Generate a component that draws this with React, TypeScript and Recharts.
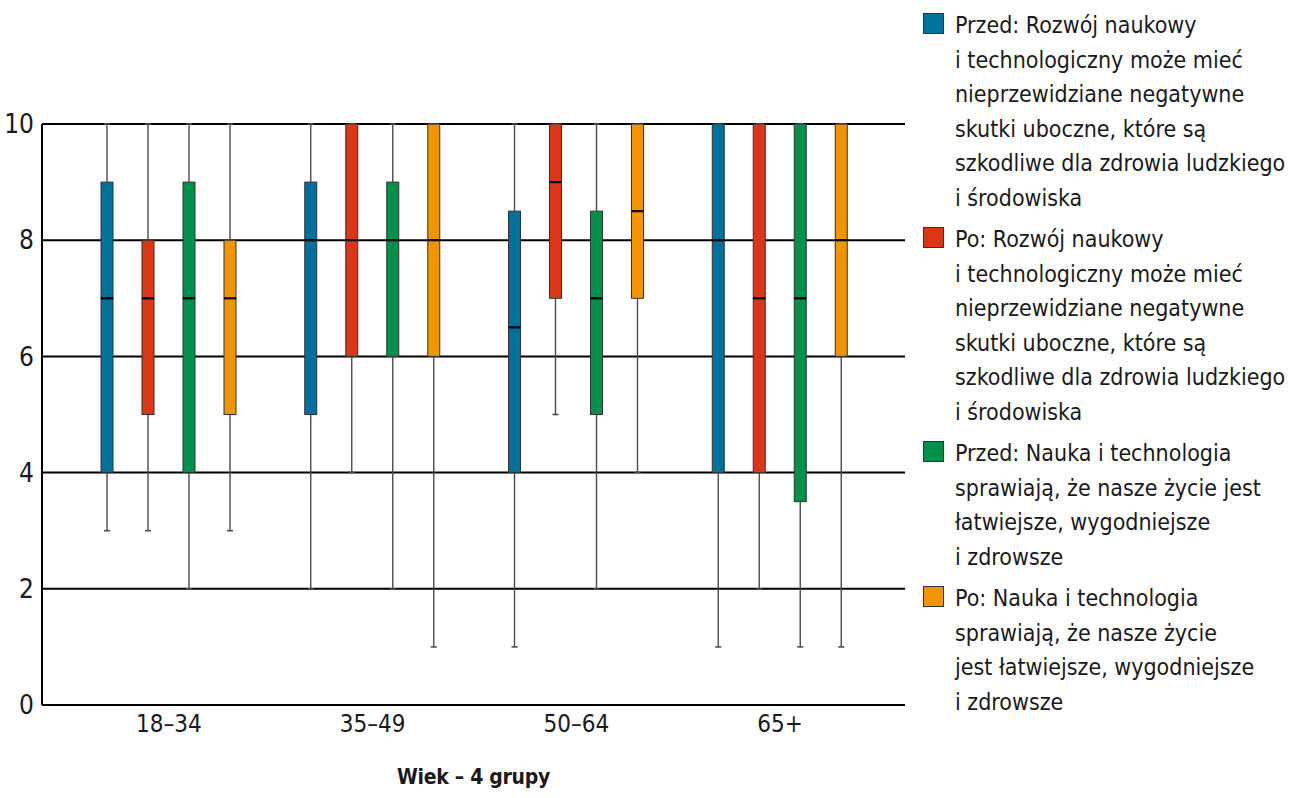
import React from "react";
import { Bar, BarChart, ReferenceLine, XAxis, YAxis } from "recharts";

const FONT = '"DejaVu Sans Condensed", "Liberation Sans Narrow", sans-serif';

// age groups on the x axis
const groups = ["18–34", "35–49", "50–64", "65+"];
const yTicks = [0, 2, 4, 6, 8, 10];

// five-number summaries per series, one value per age group
const przedRozwojMin = [3, 2, 1, 1];
const przedRozwojQ1 = [4, 5, 4, 4];
const przedRozwojMed = [7, 8, 6.5, 8];
const przedRozwojQ3 = [9, 9, 8.5, 10];
const przedRozwojMax = [10, 10, 10, 10];

const poRozwojMin = [3, 4, 5, 2];
const poRozwojQ1 = [5, 6, 7, 4];
const poRozwojMed = [7, 8, 9, 7];
const poRozwojQ3 = [8, 10, 10, 10];
const poRozwojMax = [10, 10, 10, 10];

const przedNaukaMin = [2, 2, 2, 1];
const przedNaukaQ1 = [4, 6, 5, 3.5];
const przedNaukaMed = [7, 8, 7, 7];
const przedNaukaQ3 = [9, 9, 8.5, 10];
const przedNaukaMax = [10, 10, 10, 10];

const poNaukaMin = [3, 1, 4, 1];
const poNaukaQ1 = [5, 6, 7, 6];
const poNaukaMed = [7, 8, 8.5, 8];
const poNaukaQ3 = [8, 10, 10, 10];
const poNaukaMax = [10, 10, 10, 10];

const seriesKeys = ["przedRozwoj", "poRozwoj", "przedNauka", "poNauka"];
const seriesColors = ["#00709d", "#dc3616", "#00914a", "#f19400"];
const seriesLabels = [
  [
    "Przed: Rozwój naukowy",
    "i technologiczny może mieć",
    "nieprzewidziane negatywne",
    "skutki uboczne, które są",
    "szkodliwe dla zdrowia ludzkiego",
    "i środowiska",
  ],
  [
    "Po: Rozwój naukowy",
    "i technologiczny może mieć",
    "nieprzewidziane negatywne",
    "skutki uboczne, które są",
    "szkodliwe dla zdrowia ludzkiego",
    "i środowiska",
  ],
  [
    "Przed: Nauka i technologia",
    "sprawiają, że nasze życie jest",
    "łatwiejsze, wygodniejsze",
    "i zdrowsze",
  ],
  [
    "Po: Nauka i technologia",
    "sprawiają, że nasze życie",
    "jest łatwiejsze, wygodniejsze",
    "i zdrowsze",
  ],
];

const summaries = [
  [przedRozwojMin, przedRozwojQ1, przedRozwojMed, przedRozwojQ3, przedRozwojMax],
  [poRozwojMin, poRozwojQ1, poRozwojMed, poRozwojQ3, poRozwojMax],
  [przedNaukaMin, przedNaukaQ1, przedNaukaMed, przedNaukaQ3, przedNaukaMax],
  [poNaukaMin, poNaukaQ1, poNaukaMed, poNaukaQ3, poNaukaMax],
];

// each box is a stack: hidden base, lower whisker, lower box, upper box, upper whisker
const data = groups.map((group, i) => {
  const row: Record<string, number | string> = { group };
  seriesKeys.forEach((k, s) => {
    const [mn, q1, md, q3, mx] = summaries[s].map((arr) => arr[i]);
    row[`${k}_base`] = mn;
    row[`${k}_lw`] = q1 - mn;
    row[`${k}_lb`] = md - q1;
    row[`${k}_ub`] = q3 - md;
    row[`${k}_uw`] = mx - q3;
  });
  return row;
});

const WHISKER = "#4a4a4a";
const BOX_EDGE = "#333";

const Empty = () => <g />;

const LowerWhisker = (p: any) => {
  const cx = p.x + p.width / 2;
  const bottom = p.y + p.height;
  return (
    <g>
      <line x1={cx} x2={cx} y1={p.y} y2={bottom} stroke={WHISKER} strokeWidth={1.4} />
      <line x1={cx - 3} x2={cx + 3} y1={bottom} y2={bottom} stroke={WHISKER} strokeWidth={1.6} />
    </g>
  );
};

const UpperWhisker = (p: any) => {
  const cx = p.x + p.width / 2;
  return (
    <g>
      <line x1={cx} x2={cx} y1={p.y} y2={p.y + p.height} stroke={WHISKER} strokeWidth={1.4} />
      <line x1={cx - 3} x2={cx + 3} y1={p.y} y2={p.y} stroke={WHISKER} strokeWidth={1.6} />
    </g>
  );
};

const LowerBox = (p: any) => (
  <rect x={p.x} y={p.y} width={p.width} height={p.height} fill={p.fill} stroke={BOX_EDGE} strokeWidth={1} />
);

// upper half of the box also carries the median line on its lower edge
const UpperBox = (p: any) => (
  <g>
    <rect x={p.x} y={p.y} width={p.width} height={p.height} fill={p.fill} stroke={BOX_EDGE} strokeWidth={1} />
    <line x1={p.x} x2={p.x + p.width} y1={p.y + p.height} y2={p.y + p.height} stroke="#000" strokeWidth={2.2} />
  </g>
);

function LegendBlock() {
  return (
    <div
      style={{
        position: "absolute",
        left: 923,
        top: 8,
        fontFamily: FONT,
        fontSize: 23,
        lineHeight: "34.5px",
        color: "#1a1a1a",
      }}
    >
      {seriesLabels.map((lines, s) => (
        <div key={s} style={{ position: "relative", paddingLeft: 32, marginBottom: 7 }}>
          <span
            style={{
              position: "absolute",
              left: 0,
              top: 5,
              width: 19,
              height: 19,
              background: seriesColors[s],
              border: "1px solid #333",
            }}
          />
          {lines.map((l, j) => (
            <div key={j} style={{ whiteSpace: "nowrap" }}>
              {l}
            </div>
          ))}
        </div>
      ))}
    </div>
  );
}

export default function App() {
  return (
    <div style={{ position: "absolute", left: 0, top: 0, width: 1293, height: 798, background: "#fff" }}>
      <BarChart
        width={1293}
        height={798}
        data={data}
        margin={{ top: 124, right: 388, bottom: 0, left: 0 }}
        barSize={12}
        barGap={29}
      >
        {/* horizontal rules at the labelled ticks, kept under the boxes */}
        {yTicks
          .filter((v) => v > 0)
          .map((v) => (
            <ReferenceLine key={`rule-${v}`} y={v} stroke="#000" strokeWidth={2} zIndex={-50} />
          ))}
        <XAxis
          dataKey="group"
          height={93}
          padding={{ left: 25, right: 23 }}
          tickLine={false}
          axisLine={{ stroke: "#000", strokeWidth: 2 }}
          tick={{ fill: "#1a1a1a", fontSize: 24, fontFamily: FONT }}
          tickMargin={4}
          label={{
            value: "Wiek – 4 grupy",
            position: "insideBottom",
            offset: 14,
            style: { fill: "#1a1a1a", fontSize: 21, fontWeight: 700, fontFamily: FONT, letterSpacing: -0.3 },
          }}
        />
        <YAxis
          width={42}
          domain={[0, 10]}
          ticks={yTicks}
          tickLine={false}
          axisLine={{ stroke: "#000", strokeWidth: 2 }}
          tick={{ fill: "#1a1a1a", fontSize: 26, fontFamily: FONT }}
        />
        {seriesKeys.flatMap((k, s) => [
          <Bar key={`${k}_base`} dataKey={`${k}_base`} stackId={k} shape={Empty} isAnimationActive={false} />,
          <Bar key={`${k}_lw`} dataKey={`${k}_lw`} stackId={k} shape={LowerWhisker} isAnimationActive={false} />,
          <Bar key={`${k}_lb`} dataKey={`${k}_lb`} stackId={k} fill={seriesColors[s]} shape={LowerBox} isAnimationActive={false} />,
          <Bar key={`${k}_ub`} dataKey={`${k}_ub`} stackId={k} fill={seriesColors[s]} shape={UpperBox} isAnimationActive={false} />,
          <Bar key={`${k}_uw`} dataKey={`${k}_uw`} stackId={k} shape={UpperWhisker} isAnimationActive={false} />,
        ])}
      </BarChart>
      <LegendBlock />
    </div>
  );
}
